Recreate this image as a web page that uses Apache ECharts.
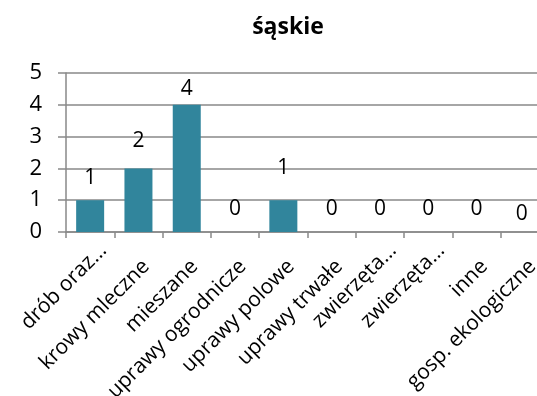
<!DOCTYPE html>
<html>
<head>
<meta charset="utf-8">
<script src="https://cdn.jsdelivr.net/npm/echarts@6/dist/echarts.min.js"></script>
<style>
html,body{margin:0;padding:0;background:#fff;}
#chart{width:537px;height:396px;}
</style>
</head>
<body>
<div id="chart"></div>
<script>
const titleText = 'śąskie';
const categories = ['drób oraz…', 'krowy mleczne', 'mieszane', 'uprawy ogrodnicze', 'uprawy polowe', 'uprawy trwałe', 'zwierzęta…', 'zwierzęta…', 'inne', 'gosp. ekologiczne'];
const values = [1, 2, 4, 0, 1, 0, 0, 0, 0, 0];
const yTicks = [0, 1, 2, 3, 4, 5];

// per-label nudges of the data labels (pixels), as placed in the original chart
const labelNudge = [[0, 0], [0, -5], [0, 7], [0, 0], [0, -10], [0, 0], [0, 0], [0, 0], [0, 0], [-3, 5]];

const FONT = '"Open Sans", Lato, sans-serif';
const GRAY = '#898989';

const seriesData = values.map((v, i) => ({value: v, label: {offset: labelNudge[i]}}));

const chart = echarts.init(document.getElementById('chart'), null, {renderer: 'canvas'});
chart.setOption({
  animation: false,
  backgroundColor: '#fff',
  title: {
    text: titleText,
    left: 283, top: 11, textAlign: 'center',
    textStyle: {fontFamily: FONT, fontSize: 23, fontWeight: 'bold', color: '#000'}
  },
  grid: {left: 66, top: 73, width: 483, height: 159, containLabel: false, outerBoundsMode: 'none'},
  xAxis: {
    type: 'category',
    data: categories,
    boundaryGap: true,
    axisLine: {show: true, lineStyle: {color: GRAY, width: 1.5}},
    axisTick: {show: true, length: 6, lineStyle: {color: GRAY, width: 1.5}},
    axisLabel: {
      interval: 0, rotate: 45, margin: 39,
      fontFamily: FONT, fontSize: 21, color: '#000',
      formatter: v => (v.endsWith('…') ? '{t|' : '{n|') + v + '}',
      rich: {
        n: {fontFamily: FONT, fontSize: 21, color: '#000', padding: [0, -11, 0, 0]},
        t: {fontFamily: FONT, fontSize: 21, color: '#000', padding: [0, -26, 15, 0]}
      }
    }
  },
  yAxis: {
    type: 'value',
    min: yTicks[0], max: yTicks[yTicks.length - 1], interval: 1,
    axisLine: {show: true, lineStyle: {color: GRAY, width: 1.5}},
    axisTick: {show: true, length: 8, lineStyle: {color: GRAY, width: 1.5}},
    splitLine: {show: true, lineStyle: {color: GRAY, width: 1.5}},
    axisLabel: {margin: 24, padding: [5, 0, 0, 0], fontFamily: FONT, fontSize: 22, color: '#000'}
  },
  series: [{
    type: 'bar',
    data: seriesData,
    barWidth: 28,
    itemStyle: {color: '#31859C'},
    label: {
      show: true, position: 'top', distance: 12,
      fontFamily: FONT, fontSize: 21, color: '#000'
    }
  }]
});
</script>
</body>
</html>
